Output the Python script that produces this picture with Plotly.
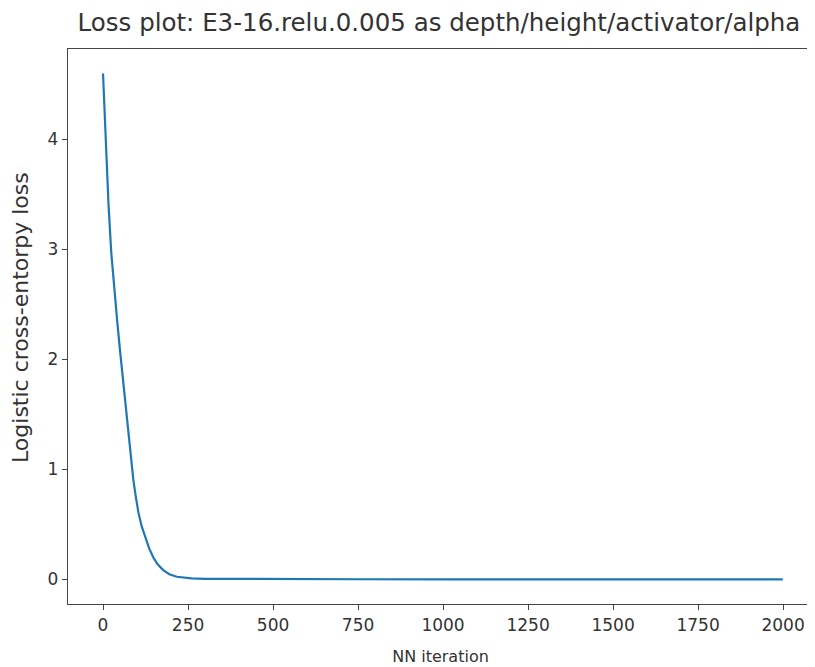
import plotly.graph_objects as go

# Data
iterations = [0, 8, 16, 24, 32, 42, 50, 58, 65, 72, 80, 89, 96, 104, 114, 124,
              136, 148, 160, 177, 195, 217, 240, 260, 300, 400, 500, 750, 1000, 1250,
              1500, 1750, 1999]
loss = [4.60, 3.99, 3.42, 2.98, 2.66, 2.34, 2.08, 1.83, 1.60, 1.38, 1.14,
        0.91, 0.76, 0.61, 0.48, 0.38, 0.28, 0.20, 0.14, 0.085, 0.048, 0.025, 0.014,
        0.010, 0.006, 0.004, 0.003, 0.002, 0.0015, 0.001, 0.0008, 0.0006, 0.0005]

x_ticks = [0, 250, 500, 750, 1000, 1250, 1500, 1750, 2000]
y_ticks = [0, 1, 2, 3, 4]

title_text = "Loss plot: E3-16.relu.0.005 as depth/height/activator/alpha"
x_label = "NN iteration"
y_label = "Logistic cross-entorpy loss"

FONT = "DejaVu Sans"
TXT = "#333333"

# page body adds an 8px offset, so the figure is sized/margined to compensate
W, H = 807, 659
ML, MR, MT, MB = 60, 2, 41, 63
plot_w = W - ML - MR
plot_h = H - MT - MB

fig = go.Figure()
fig.add_trace(go.Scatter(x=iterations, y=loss, mode="lines",
                         line=dict(color="#1f77b4", width=2.2),
                         showlegend=False))

fig.update_layout(
    width=W, height=H,
    margin=dict(l=ML, r=MR, t=MT, b=MB),
    paper_bgcolor="white", plot_bgcolor="white",
    font=dict(family=FONT, size=16, color=TXT),
    title=dict(text=title_text, x=431/W, xref="container", xanchor="center",
               y=1 - 14/H, yref="container", yanchor="middle",
               font=dict(family=FONT, size=24.5, color=TXT)),
)
axis_common = dict(showgrid=False, zeroline=False, showline=True, mirror=True,
                   linecolor="#444444", linewidth=1.4, ticks="outside", ticklen=5,
                   tickwidth=1.3, tickcolor="#444444",
                   tickfont=dict(family=FONT, size=17, color=TXT))
fig.update_xaxes(range=[-103, 2088], tickvals=x_ticks,
                 ticktext=[str(v) for v in x_ticks],
                 title=dict(text=x_label, standoff=17, font=dict(family=FONT, size=16, color=TXT)),
                 **axis_common)
fig.update_yaxes(range=[-0.223, 4.823], tickvals=y_ticks,
                 ticktext=[str(v) for v in y_ticks],
                 **axis_common)

# y-axis title as a rotated annotation for exact placement
fig.add_annotation(text=y_label, textangle=-90, showarrow=False,
                   xref="paper", yref="paper",
                   x=-(ML - 12) / plot_w, y=(596 - 310) / plot_h,
                   xanchor="center", yanchor="middle",
                   font=dict(family=FONT, size=22, color=TXT))

fig.write_html("out.html")
